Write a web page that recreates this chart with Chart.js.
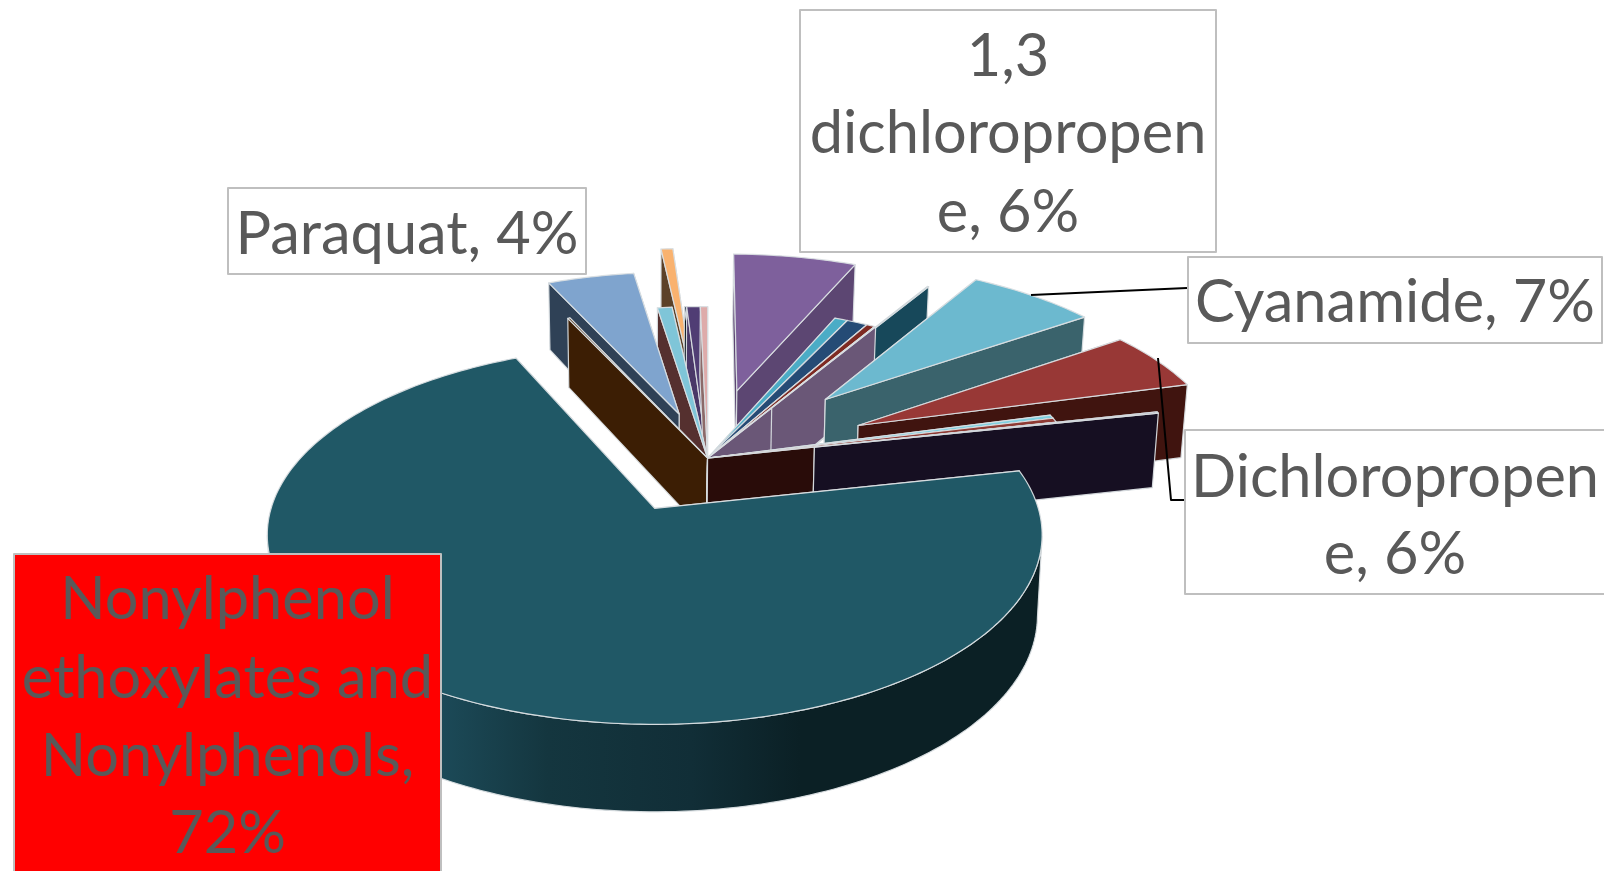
<!DOCTYPE html>
<html>
<head>
<meta charset="utf-8">
<style>html,body{margin:0;padding:0;background:#fff;overflow:hidden}canvas{display:block}</style>
<script src="https://cdn.jsdelivr.net/npm/chart.js@4"></script>
</head>
<body>
<canvas id="c" width="1604" height="871"></canvas>
<script>
// Unlabelled thin slices have no readable names in the reference.
const categories = ['Nonylphenol ethoxylates and Nonylphenols','','Paraquat','','','','','','1,3 dichloropropene','','','','','','Cyanamide','Dichloropropene','','',''];
const shares     = [71.67,0.11,4.42,0.72,0.61,0.11,0.67,0.36,6.33,0.64,1.03,0.42,0.05,0.06,6.60,5.39,0.33,0.38,0.13];
const explosions = [31.6,0,27.6,0,46,0,0,0,42.3,0,0,0,0,35.5,49.4,46.5,0,0,30];
const topColors  = ['#205866','#4a2a10','#7FA4CE','#7FC5D8','#F9B26F','#1B2A3B','#503D74','#DEABAA','#7E609C','#4BACC6','#254B75','#7E2A22','#c9bfd4','#17485A','#6CB9CF','#983836','#7FD0E0','#8E3A33','#3E2F5A'];
const wallColors = ['#10303a','#3C1E04','#2F4156','#55302F','#5C4128','#0b1420','#4a3868','#8c6a69','#5C4672','#2c6c7e','#142c48','#4a1812','#6A5777','#17485A','#3A636C','#40140F','#2f6f7e','#290C09','#160F22'];
const paintOrder = [4,5,6,7,3,2,1,8,9,10,11,13,12,14,15,16,17,18,0];

const labelBoxes = [
  {lines:['Nonylphenol','ethoxylates and','Nonylphenols,','72%'], ys:[600,679,757,834], box:[14,554,427,330], fill:'#FF0000'},
  {lines:['Paraquat, 4%'], ys:[235], box:[228,188,358,86], fill:'#FFFFFF'},
  {lines:['1,3','dichloropropen','e, 6%'], ys:[57,134,213], box:[800,10,416,242], fill:'#FFFFFF'},
  {lines:['Cyanamide, 7%'], ys:[303], box:[1188,257,414,86], fill:'#FFFFFF'},
  {lines:['Dichloropropen','e, 6%'], ys:[478,555], box:[1185,430,430,164], fill:'#FFFFFF'}
];
const leaderLines = [
  [[1031,295],[1187,288]],
  [[1158,358],[1171,500],[1185,500]]
];

const view = {cx:654.7, cy:508.4, a:383.6, b:185.7, k:0.14};

function project(u,v,down){
  const w = 1 - view.k*v;
  let X = view.cx + view.a*u/w, Y = view.cy + view.b*v/w;
  if(down){
    X = view.cx + (X-view.cx)*0.988;
    Y += (85.5 - 58*(w-0.86))*1.023;
  }
  return [X,Y];
}

const pie3d = {
  id:'pie3d',
  beforeDatasetDraw(chart,args){
    const ctx = chart.ctx, arcs = chart.getDatasetMeta(args.index).data;
    const first = arcs[0];
    const firstMid = (first.startAngle+first.endAngle)/2;
    const ou = -(first.options.offset/100)*Math.cos(firstMid);
    const ov = -(first.options.offset/100)*Math.sin(firstMid);
    const outline = 'rgba(217,222,226,0.95)';
    paintOrder.forEach(i=>{
      const arc = arcs[i];
      const mid = (arc.startAngle+arc.endAngle)/2;
      const e = arc.options.offset/100;
      const au = ou + e*Math.cos(mid), av = ov + e*Math.sin(mid);
      const rim = ang => [au+Math.cos(ang), av+Math.sin(ang)];
      const poly = (pts,fill)=>{
        ctx.beginPath();
        pts.forEach((p,n)=> n?ctx.lineTo(p[0],p[1]):ctx.moveTo(p[0],p[1]));
        ctx.closePath();
        ctx.fillStyle = fill;
        ctx.fill();
        ctx.lineWidth = 1.2;
        ctx.lineJoin = 'round';
        ctx.strokeStyle = outline;
        ctx.stroke();
      };
      const cutWall = ang=>{
        const r = rim(ang);
        poly([project(au,av),project(r[0],r[1]),project(r[0],r[1],true),project(au,av,true)], wallColors[i]);
      };
      if(Math.cos(mid) >= 0){ cutWall(arc.startAngle); cutWall(arc.endAngle); }
      else { cutWall(arc.endAngle); cutWall(arc.startAngle); }
      const steps = Math.max(2,Math.ceil((arc.endAngle-arc.startAngle)/0.02));
      const top=[];
      const frontTop=[], frontBottom=[];
      const edge = Math.asin(view.k);
      for(let s=0;s<=steps;s++){
        const ang = arc.startAngle+(arc.endAngle-arc.startAngle)*s/steps;
        const r = rim(ang);
        top.push(project(r[0],r[1]));
        const n = ((ang%(2*Math.PI))+2*Math.PI)%(2*Math.PI);
        if(n>=edge && n<=Math.PI-edge){
          frontTop.push(project(r[0],r[1]));
          frontBottom.push(project(r[0],r[1],true));
        }
      }
      if(i===0){
        const g = ctx.createLinearGradient(440,0,800,0);
        g.addColorStop(0,'#1c4a58');g.addColorStop(0.3,'#14363f');g.addColorStop(0.7,'#112e37');g.addColorStop(1,'#0b2025');
        poly(frontTop.concat(frontBottom.reverse()), g);
      }
      poly([project(au,av)].concat(top), arc.options.backgroundColor);
      if(i===12){
        const L = arcs[13], lm=(L.startAngle+L.endAngle)/2, le=L.options.offset/100;
        const lu=ou+le*Math.cos(lm), lv=ov+le*Math.sin(lm);
        const p=project(lu,lv), q=project(lu,lv,true);
        ctx.beginPath();ctx.moveTo(p[0],p[1]);ctx.lineTo(q[0],q[1]);ctx.lineWidth=1.2;ctx.strokeStyle=outline;ctx.stroke();
      }
    });
    return false;
  },
  afterDraw(chart){
    const ctx = chart.ctx;
    ctx.save();
    ctx.strokeStyle='#000';ctx.lineWidth=2;
    leaderLines.forEach(l=>{
      ctx.beginPath();
      l.forEach((p,n)=> n?ctx.lineTo(p[0],p[1]):ctx.moveTo(p[0],p[1]));
      ctx.stroke();
    });
    labelBoxes.forEach(b=>{
      const [x,y,w,h]=b.box;
      ctx.fillStyle=b.fill;ctx.fillRect(x,y,w,h);
      ctx.strokeStyle='#BFBFBF';ctx.lineWidth=2;ctx.strokeRect(x,y,w,h);
      ctx.fillStyle='#595959';
      ctx.font='59.5px Lato';
      ctx.textAlign='center';ctx.textBaseline='middle';
      const tx = Math.min(x+w/2, 1395);
      b.lines.forEach((t,n)=>ctx.fillText(t,tx,b.ys[n]));
    });
    ctx.restore();
  }
};

new Chart(document.getElementById('c').getContext('2d'),{
  type:'pie',
  data:{labels:categories,datasets:[{data:shares,offset:explosions,backgroundColor:topColors,borderWidth:0}]},
  options:{responsive:false,animation:false,rotation:78,layout:{padding:0},plugins:{legend:{display:false},tooltip:{enabled:false},title:{display:false}}},
  plugins:[pie3d]
});
</script>
</body>
</html>
